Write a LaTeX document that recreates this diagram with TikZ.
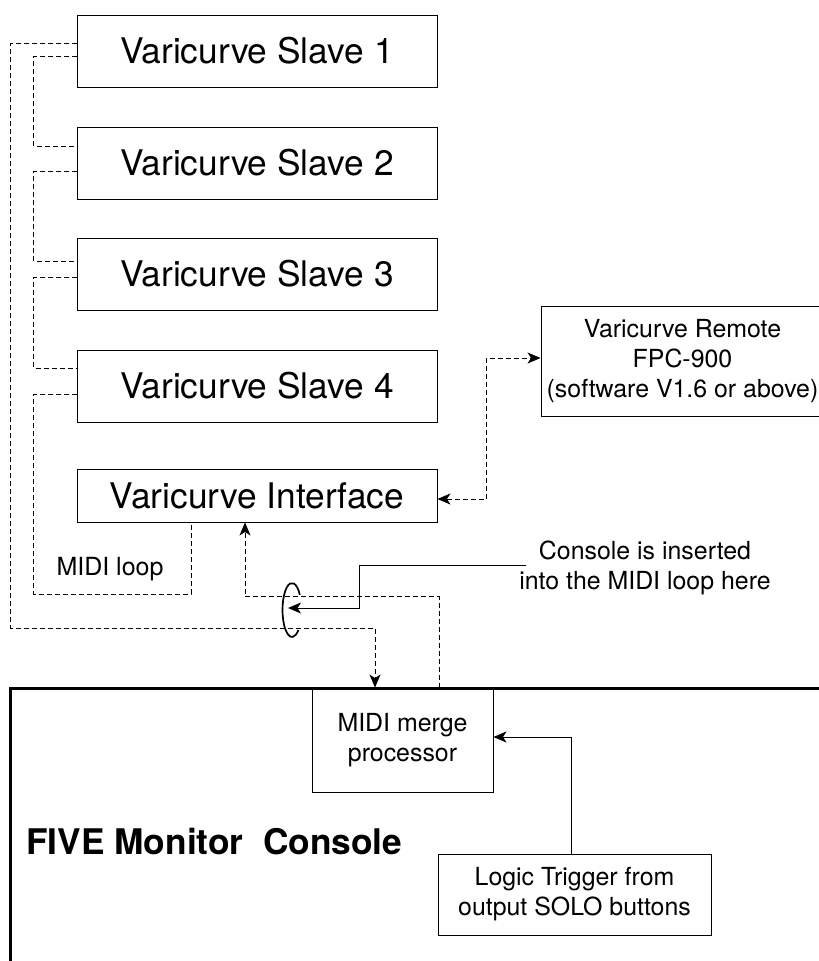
\documentclass[tikz,border=0pt]{standalone}
\usepackage{fontspec}
\setmainfont{TeX Gyre Heros}
\usetikzlibrary{arrows.meta,calc}
\begin{document}
\begin{tikzpicture}[x=1pt,y=-1pt,
  >={Stealth[length=13pt,width=11pt,inset=3.5pt]},
  box/.style={draw, line width=0.9pt, inner sep=0pt, align=center},
  big/.style={font=\fontsize{35.3}{40}\selectfont},
  mid/.style={font=\fontsize{24.9}{30}\selectfont},
  dl/.style={dash pattern=on 5pt off 3pt, line width=0.9pt},
  sl/.style={line width=1pt},
]
\useasboundingbox (0,0) rectangle (819,961);

% slaves and interface
\node[box,big,minimum width=360pt,minimum height=72pt] (s1) at (257,51) {Varicurve Slave 1};
\node[box,big,minimum width=360pt,minimum height=72pt] (s2) at (257,163) {Varicurve Slave 2};
\node[box,big,minimum width=360pt,minimum height=72pt] (s3) at (257,274) {Varicurve Slave 3};
\node[box,big,minimum width=360pt,minimum height=72pt] (s4) at (257,386) {Varicurve Slave 4};
\node[box,big,minimum width=360pt,minimum height=53pt] (if) at (257,495.5) {Varicurve Interface};

% remote
\node[box,mid,minimum width=283pt,minimum height=110pt] (rem) at (682.5,361) {Varicurve Remote\\FPC-900\\(software V1.6 or above)};

% console parts
\node[box,mid,minimum width=181pt,minimum height=104pt] (mg) at (402.5,740) {MIDI merge\\processor};
\node[box,mid,minimum width=273pt,minimum height=81pt] (lg) at (574.5,894.5) {Logic Trigger from\\output SOLO buttons};
\draw[line width=3pt] (10,975) -- (10,688) -- (830,688);
\node[anchor=west, inner sep=0pt, font=\bfseries\fontsize{35.3}{40}\selectfont] (ttl) at (26,842) {FIVE Monitor\ \ Console};

% labels
\node[mid, align=center] (note) at (645,567.5) {Console is inserted\\into the MIDI loop here};
\node[font=\fontsize{25}{30}\selectfont] (ml) at (110,569) {MIDI loop};

\coordinate (ann) at (526,565);
\coordinate (lasso) at (292,610);
\coordinate (atip) at (288,608);

% MIDI chain
\draw[dl] ([yshift=-5pt]s1.west) -- ++(-43,0) |- ([yshift=17pt]s2.west);
\draw[dl] ([yshift=-8pt]s2.west) -- ++(-43,0) |- ([yshift=13pt]s3.west);
\draw[dl] ([yshift=-3pt]s3.west) -- ++(-43,0) |- ([yshift=18pt]s4.west);
\draw[dl] ([yshift=-8pt]s4.west) -- ++(-43,0) -- ++(0,200) -| ([xshift=-66pt]if.south);
\draw[dl,->] ([yshift=8pt]s1.west) -- ++(-66,0) -- ++(0,585) -| ([xshift=-27.5pt]mg.north);
\draw[dl,->] ([xshift=36.5pt]mg.north) -- ++(0,-91) -| ([xshift=-12pt]if.south);
\draw[dl,<->] ([yshift=-3.5pt]if.east) -- ++(49,0) |- ([yshift=3pt]rem.west);

% logic trigger
\draw[sl,->] ([xshift=-3.5pt]lg.north) |- ([yshift=3pt]mg.east);

% annotation
\draw[sl,->] (ann) -- ++(-167,0) -- ++(0,43) -- (atip);
\draw[line width=1.7pt] ([shift={(34:9.5pt and 27pt)}]lasso) arc[start angle=34,end angle=312,x radius=9.5pt,y radius=27pt];
\end{tikzpicture}
\end{document}
